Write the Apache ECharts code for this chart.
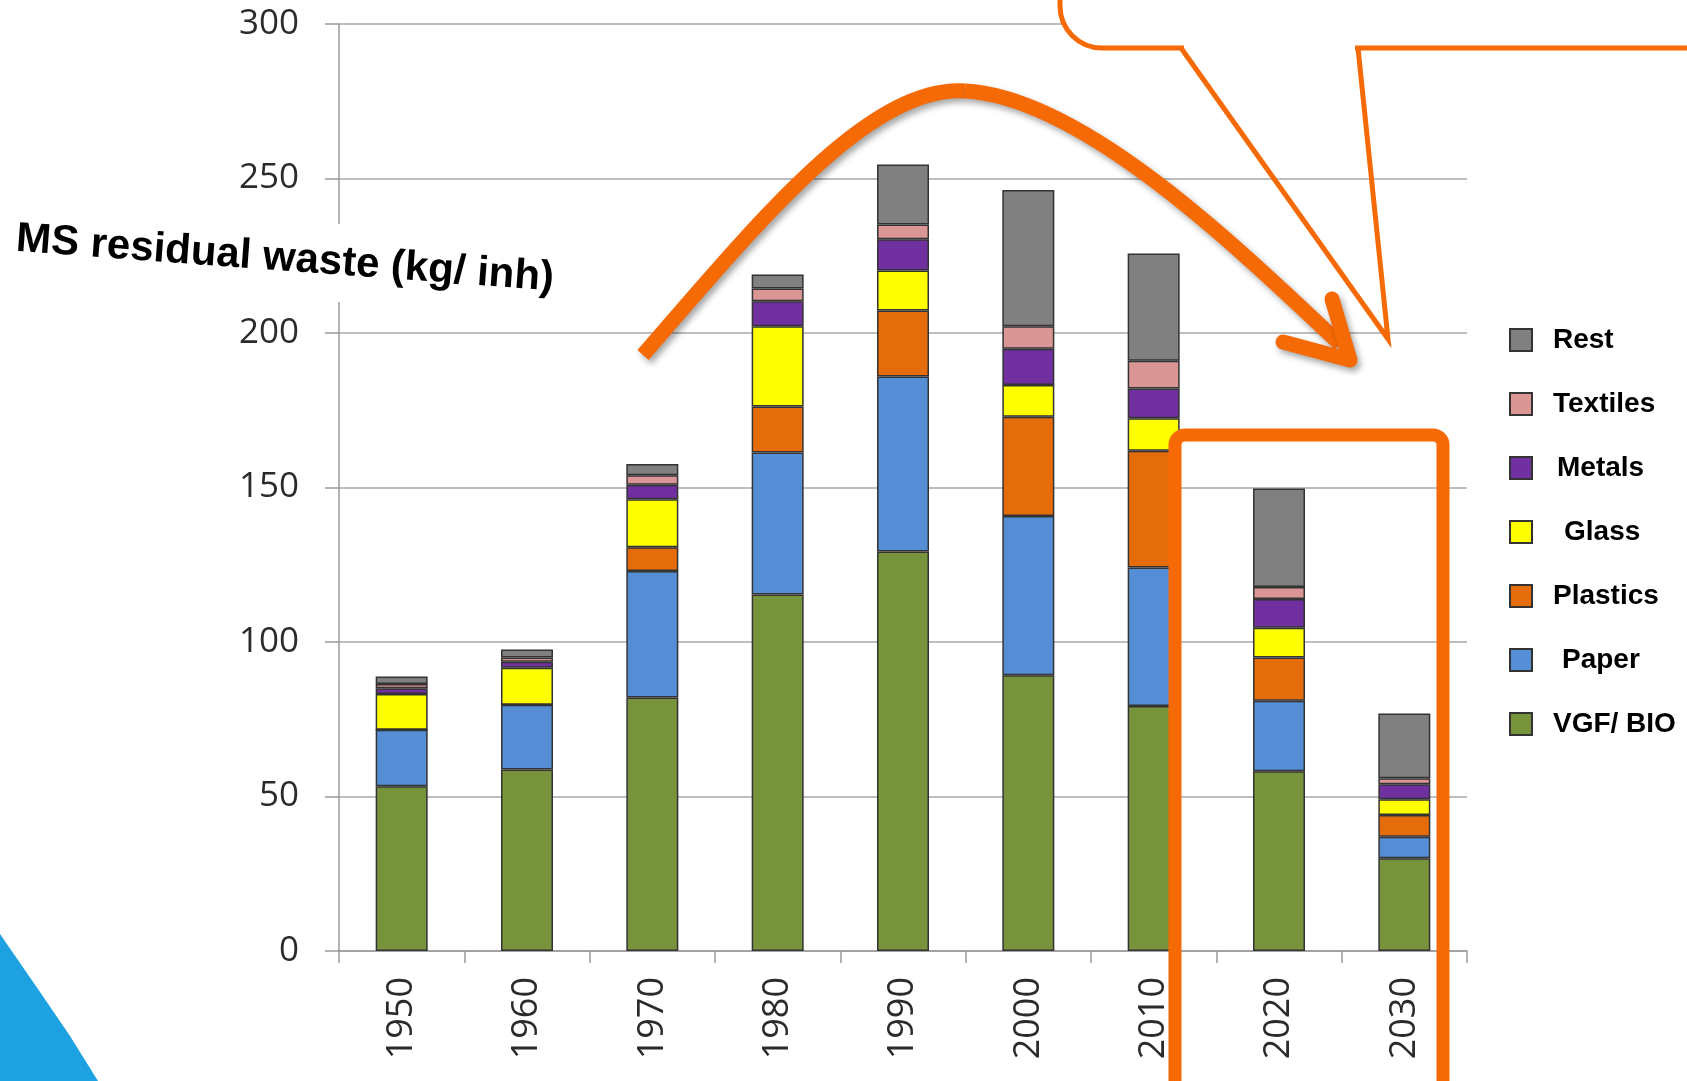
<!DOCTYPE html>
<html>
<head>
<meta charset="utf-8">
<script src="https://cdn.jsdelivr.net/npm/echarts@6/dist/echarts.min.js"></script>
<style>
html,body{margin:0;padding:0;background:#fff;}
#chart{width:1687px;height:1081px;}
</style>
</head>
<body>
<div id="chart"></div>
<script>
var categories = ['1950','1960','1970','1980','1990','2000','2010','2020','2030'];
var vgfBio   = [53.3, 58.7, 82.0, 115.4, 129.3, 89.2, 79.3, 58.2, 30.0];
var paper    = [18.3, 21.0, 41.0, 45.9, 56.6, 51.6, 44.8, 22.8, 7.0];
var plastics = [0, 0, 7.7, 14.9, 21.4, 32.1, 37.8, 14.0, 7.0];
var glass    = [11.6, 12.0, 15.5, 26.0, 12.9, 10.3, 10.5, 9.6, 5.1];
var metals   = [1.8, 1.9, 4.7, 8.1, 10.1, 11.7, 9.6, 9.3, 4.9];
var textiles = [1.4, 1.4, 3.1, 4.1, 4.8, 7.3, 9.0, 3.9, 1.9];
var rest     = [2.4, 2.6, 3.6, 4.5, 19.4, 44.1, 34.7, 31.9, 21.0];
var yTicks   = [0, 50, 100, 150, 200, 250, 300];

var seriesDefs = [
  {name:'VGF/ BIO', data:vgfBio,   color:'#77933C'},
  {name:'Paper',    data:paper,    color:'#558ED5'},
  {name:'Plastics', data:plastics, color:'#E46C0A'},
  {name:'Glass',    data:glass,    color:'#FFFF00'},
  {name:'Metals',   data:metals,   color:'#7030A0'},
  {name:'Textiles', data:textiles, color:'#D99694'},
  {name:'Rest',     data:rest,     color:'#808080'}
];
var legendPad = {'Rest':0,'Textiles':0,'Metals':4,'Glass':11,'Plastics':0,'Paper':9,'VGF/ BIO':0};

var ORANGE = '#F66A06';
var SHADOW = {shadowColor:'rgba(0,0,0,0.35)', shadowBlur:6, shadowOffsetX:3, shadowOffsetY:4};
function arrowStyle(extra){
  var s = {fill:null, stroke:ORANGE, lineWidth:15};
  for (var k in SHADOW) s[k] = SHADOW[k];
  for (var k2 in extra) s[k2] = extra[k2];
  return s;
}
var chart = echarts.init(document.getElementById('chart'));
var option = {
  backgroundColor:'#ffffff',
  animation:false,
  grid:{left:339, right:220, top:24, bottom:130, containLabel:false},
  legend:{
    orient:'vertical',
    left:1504, top:321,
    itemWidth:22, itemHeight:22, itemGap:36,
    icon:'rect',
    textStyle:{fontFamily:'Liberation Sans, Arial', fontWeight:'bold', fontSize:28, color:'#000', lineHeight:26, padding:[0,0,0,16]},
    data: seriesDefs.slice().reverse().map(function(s){
      return {name:s.name, textStyle:{padding:[0,0,0,16+legendPad[s.name]]}};
    })
  },
  xAxis:{
    type:'category',
    data:categories,
    axisLine:{show:true, lineStyle:{color:'#9a9a9a', width:1.5}},
    axisTick:{show:true, length:12, lineStyle:{color:'#9a9a9a', width:1.5}},
    axisLabel:{rotate:90, margin:26, fontFamily:'Open Sans, DejaVu Sans', fontSize:36, color:'#2b2b2b'}
  },
  yAxis:{
    type:'value',
    min:yTicks[0], max:yTicks[yTicks.length-1], interval:50,
    axisLine:{show:true, lineStyle:{color:'#9a9a9a', width:1.5}},
    axisTick:{show:true, length:14, lineStyle:{color:'#9a9a9a', width:1.5}},
    splitLine:{show:true, lineStyle:{color:'#a8a8a8', width:1.5}},
    axisLabel:{margin:40, fontFamily:'Open Sans, DejaVu Sans', fontSize:35, color:'#2b2b2b'}
  },
  series: seriesDefs.map(function(s){
    return {
      name:s.name, type:'bar', stack:'total', barWidth:52,
      data:s.data,
      itemStyle:{color:s.color, borderColor:'#333', borderWidth:1.5}
    };
  }),
  graphic:[
    {type:'polygon', z:1, shape:{points:[[0,934],[40,992],[70,1036],[98,1081],[0,1081]]}, style:{fill:'#1EA1E1'}},
    {type:'bezierCurve', z:100, shape:{x1:643,y1:355,cpx1:760,cpy1:220,cpx2:870,cpy2:85,x2:965,y2:91}, style:arrowStyle({lineCap:'butt'})},
    {type:'bezierCurve', z:100, shape:{x1:965,y1:91,cpx1:1080,cpy1:97,cpx2:1230,cpy2:240,x2:1340,y2:344}, style:arrowStyle({lineCap:'butt'})},
    {type:'polyline', z:100, shape:{points:[[1283,342],[1350,360],[1332,299]]}, style:arrowStyle({lineCap:'round', lineJoin:'round'})},
    {type:'rect', z:100, shape:{x:1175, y:435, width:268, height:700, r:[10,10,0,0]},
      style:{fill:null, stroke:ORANGE, lineWidth:13}},
    {type:'rect', z:100, shape:{x:1060, y:-60, width:700, height:108, r:[0,0,0,42]},
      style:{fill:'#fff', stroke:ORANGE, lineWidth:5}},
    {type:'line', z:101, shape:{x1:1184, y1:48, x2:1355, y2:48}, style:{stroke:'#fff', lineWidth:7}},
    {type:'polyline', z:102, shape:{points:[[1181,48],[1388,339],[1358,48]]},
      style:{fill:null, stroke:ORANGE, lineWidth:5, lineJoin:'miter'}},
    {type:'text', z:102, x:285, y:259, rotation:-0.0733,
      style:{text:'MS residual waste (kg/ inh)', font:'bold 42px "Liberation Sans", Arial', fill:'#000',
        align:'center', verticalAlign:'middle', backgroundColor:'#fff', padding:[10,6,26,6]}}
  ]
};
chart.setOption(option);
</script>
</body>
</html>
